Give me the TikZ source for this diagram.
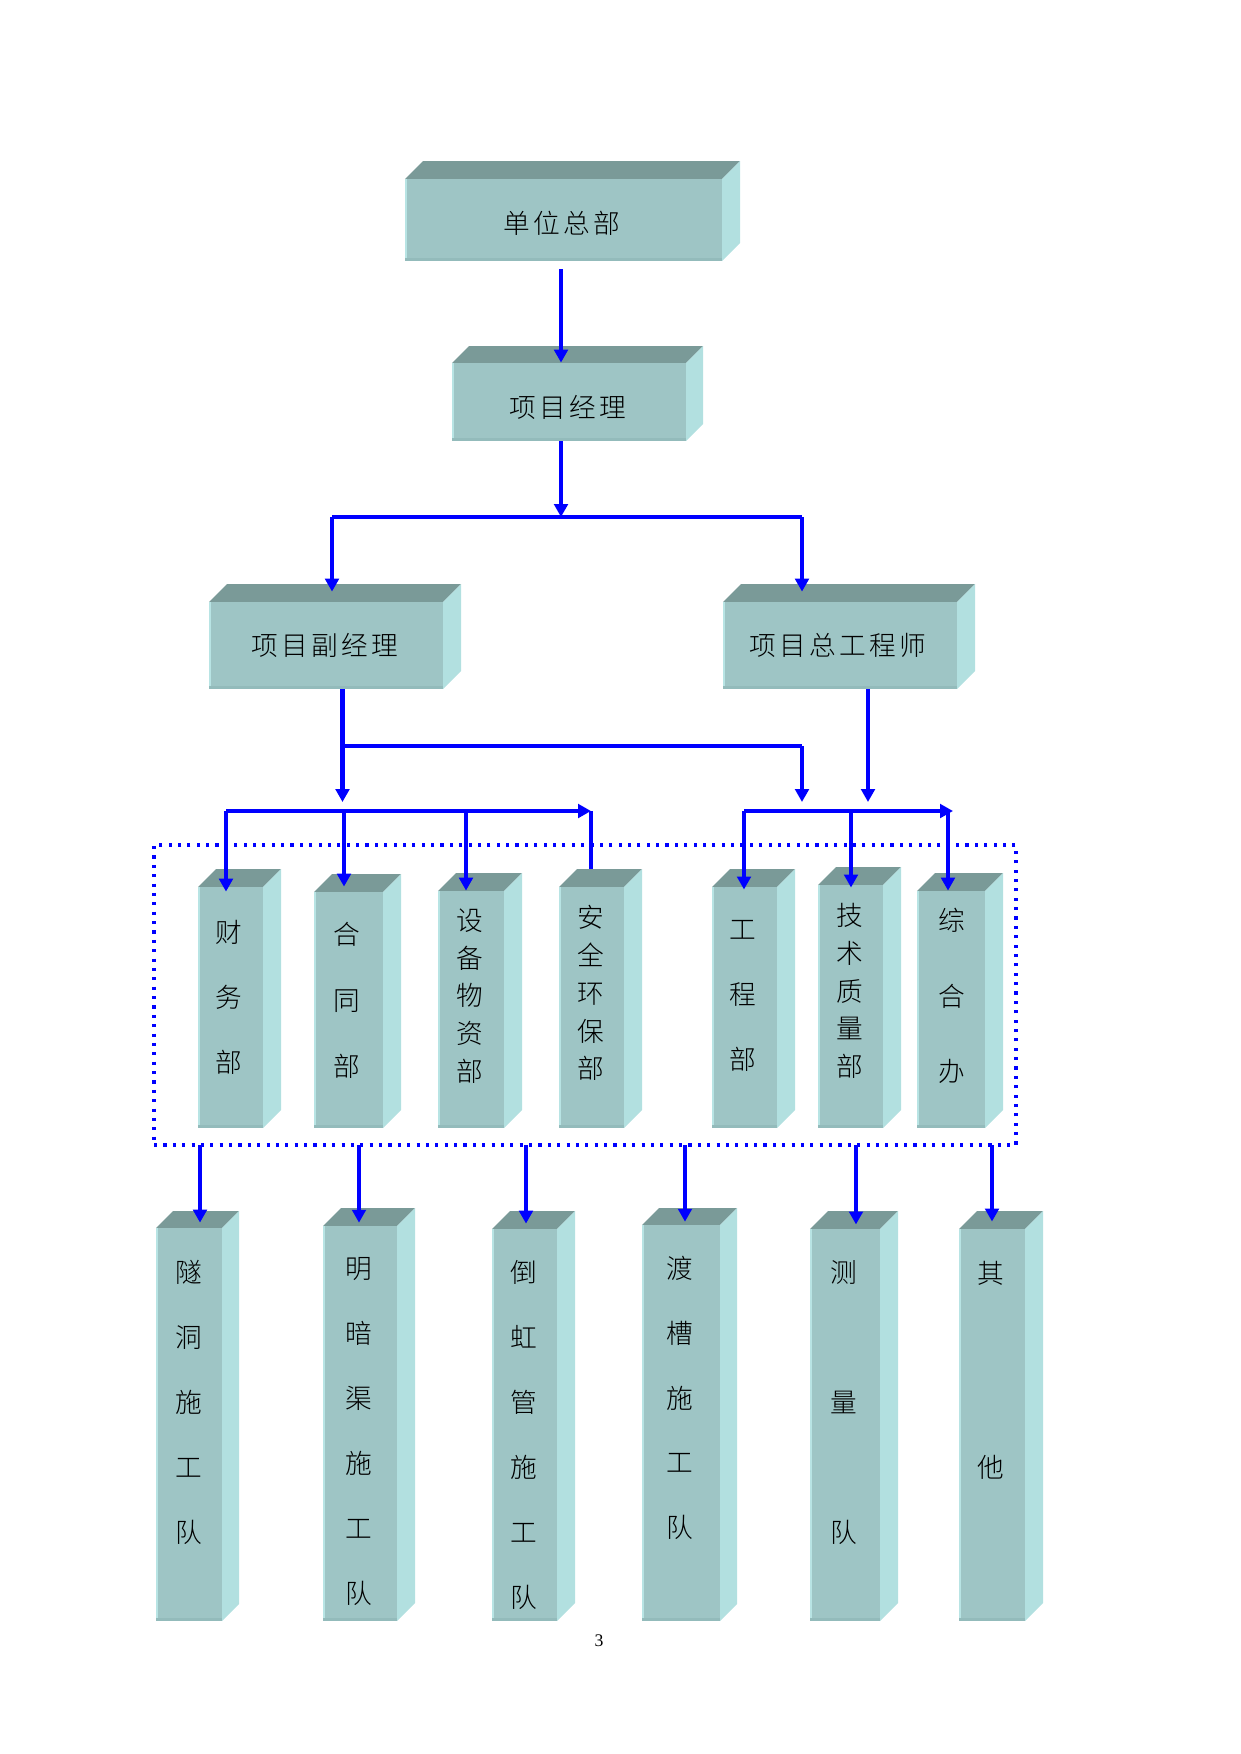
\documentclass[tikz,border=0pt]{standalone}
\usepackage{fontspec}
\setmainfont{Liberation Serif}
\newfontfamily\cjk{Noto Sans CJK SC}[UprightFont={* Light}]
\usetikzlibrary{arrows.meta,fit}
\definecolor{frontc}{HTML}{9EC5C5}
\definecolor{topc}{HTML}{7A9A98}
\definecolor{sidec}{HTML}{B2E0E0}
\definecolor{edgec}{HTML}{B8E4E4}
\definecolor{botc}{HTML}{93BBBB}
\definecolor{linec}{HTML}{0000FF}
\newcommand\ls{\hspace{1.6pt}}
\newcommand\solidbox[6]{%
  \fill[topc] (#2,#3) -- (#2+#6,#3-#6) -- (#4+#6,#3-#6) -- (#4,#3) -- cycle;
  \fill[sidec] (#4,#3) -- (#4+#6,#3-#6) -- (#4+#6,#5-#6) -- (#4,#5) -- cycle;
  \fill[frontc] (#2,#3) rectangle (#4,#5);
  \fill[edgec] (#2,#3) rectangle (#2+2,#5);
  \fill[botc] (#2,#5-3) rectangle (#4,#5);
  \coordinate (#1-nw) at (#2,#3);
  \coordinate (#1-se) at (#4,#5);
  \node[fit=(#1-nw)(#1-se),inner sep=0pt] (#1) {};
}
\tikzset{
  hlbl/.style={inner sep=0pt, font={\cjk\fontsize{12.8pt}{14pt}\selectfont}},
  vlbl/.style={inner sep=0pt, align=center, font={\cjk\fontsize{12.8pt}{#1pt}\selectfont}},
  conn/.style={draw=linec, line width=2.2pt, -{Triangle[width=6.5pt,length=6.2pt]}},
  thinconn/.style={draw=linec, line width=1.7pt},
  plainconn/.style={draw=linec, line width=2.2pt},
  group/.style={draw=linec, line width=1.5pt, dash pattern=on 1.5pt off 3pt}
}
\begin{document}
\begin{tikzpicture}[x=0.48pt,y=-0.48pt]
\useasboundingbox (0,0) rectangle (1241,1754);
% top boxes
\solidbox{b1}{405}{179}{722}{261}{18}
\solidbox{b2}{452}{363}{686}{441}{17}
\solidbox{b3}{209}{602}{443}{689}{18}
\solidbox{b4}{723}{602}{957}{689}{18}
\node[hlbl] (b1t) at (562,223) {单\ls 位\ls 总\ls 部};
\node[hlbl] (b2t) at (568,407) {项\ls 目\ls 经\ls 理};
\node[hlbl] (b3t) at (325,645) {项\ls 目\ls 副\ls 经\ls 理};
\node[hlbl] (b4t) at (838,645) {项\ls 目\ls 总\ls 工\ls 程\ls 师};
% department boxes
\solidbox{d1}{198}{887}{263}{1128}{18}
\solidbox{d2}{314}{892}{383}{1128}{18}
\solidbox{d3}{438}{891}{504}{1128}{18}
\solidbox{d4}{559}{887}{624}{1128}{18}
\solidbox{d5}{712}{887}{777}{1128}{18}
\solidbox{d6}{818}{885}{883}{1128}{18}
\solidbox{d7}{917}{891}{985}{1128}{18}
\node[vlbl=31.2] (d1t) at (229,997) {财\\务\\部};
\node[vlbl=31.7] (d2t) at (347,1000) {合\\同\\部};
\node[vlbl=18.1] (d3t) at (470,996) {设\\备\\物\\资\\部};
\node[vlbl=18.2] (d4t) at (591,993) {安\\全\\环\\保\\部};
\node[vlbl=31.4] (d5t) at (743,996) {工\\程\\部};
\node[vlbl=18.1] (d6t) at (850,991) {技\\术\\质\\量\\部};
\node[vlbl=36.2] (d7t) at (952,996) {综\\合\\办};
% team boxes
\solidbox{t1}{156}{1228}{222}{1621}{17}
\solidbox{t2}{323}{1226}{397}{1621}{18}
\solidbox{t3}{492}{1229}{557}{1621}{18}
\solidbox{t4}{642}{1225}{720}{1621}{17}
\solidbox{t5}{810}{1229}{880}{1621}{18}
\solidbox{t6}{959}{1229}{1025}{1621}{18}
\node[vlbl=31.2] (t1t) at (189,1402) {隧\\洞\\施\\工\\队};
\node[vlbl=31.2] (t2t) at (359,1431) {明\\暗\\渠\\施\\工\\队};
\node[vlbl=31.2] (t3t) at (524,1435) {倒\\虹\\管\\施\\工\\队};
\node[vlbl=31.1] (t4t) at (680,1398) {渡\\槽\\施\\工\\队};
\node[vlbl=62.4] (t5t) at (844,1403) {测\\量\\队};
\node[vlbl=93.1] (t6t) at (991,1370) {其\\他};
% dotted group frame
\coordinate (g-nw) at (154,845);
\coordinate (g-se) at (1016,1145);
\node[fit=(g-nw)(g-se),inner sep=0pt,group] (grp) {};
% connectors, top part
\coordinate (c1) at (561,269);
\draw[conn] (c1) -- (c1 |- b2.north);
\coordinate (hM) at (561,517);
\coordinate (hL) at (332,517);
\coordinate (hR) at (802,517);
\draw[conn] (b2.south -| hM) -- (hM);
\draw[thinconn] (hL) -- (hR);
\draw[conn] (hL) -- ([yshift=4.8pt]b3.north -| hL);
\draw[conn] (hR) -- ([yshift=4.8pt]b4.north -| hR);
% from deputy manager and chief engineer
\coordinate (v3) at (342.5,802);
\coordinate (br) at (342.5,746);
\coordinate (brR) at (802,746);
\coordinate (v4a) at (802,802);
\coordinate (v4) at (868,802);
\draw[conn] (b3.south -| v3) -- (v3);
\draw[thinconn] (br) -- (brR);
\draw[conn] (brR) -- (v4a);
\draw[conn] (b4.south -| v4) -- (v4);
% left bus
\coordinate (lb1) at (226,811);
\coordinate (lb2) at (344,811);
\coordinate (lb3) at (466,811);
\coordinate (lb4) at (591,811);
\draw[conn] (lb1) -- (lb4);
\draw[conn] (lb1) -- ([yshift=-2.4pt]d1.north -| lb1);
\draw[conn] (lb2) -- ([yshift=2.4pt]d2.north -| lb2);
\draw[conn] (lb3) -- (d3.north -| lb3);
\draw[plainconn] (lb4) -- ([yshift=8.6pt]d4.north -| lb4);
% right bus
\coordinate (rb1) at (744,811);
\coordinate (rb2) at (851,811);
\coordinate (rb3) at (948,811);
\coordinate (rb4) at (953,811);
\draw[conn] (rb1) -- (rb4);
\draw[conn] (rb1) -- ([yshift=-1.4pt]d5.north -| rb1);
\draw[conn] (rb2) -- ([yshift=-1.4pt]d6.north -| rb2);
\draw[conn] (rb3) -- (d7.north -| rb3);
% to teams
\coordinate (a1) at (200,1145);
\coordinate (a2) at (359,1145);
\coordinate (a3) at (526,1145);
\coordinate (a4) at (685,1145);
\coordinate (a5) at (856,1145);
\coordinate (a6) at (992,1145);
\draw[conn] (a1) -- ([yshift=2.4pt]t1.north -| a1);
\draw[conn] (a2) -- ([yshift=1.4pt]t2.north -| a2);
\draw[conn] (a3) -- ([yshift=2.4pt]t3.north -| a3);
\draw[conn] (a4) -- ([yshift=1.4pt]t4.north -| a4);
\draw[conn] (a5) -- ([yshift=2pt]t5.north -| a5);
\draw[conn] (a6) -- ([yshift=3.4pt]t6.north -| a6);
% page number
\node[inner sep=0pt, font={\fontsize{8.5pt}{10pt}\selectfont}] (pg) at (599,1641) {3};
\end{tikzpicture}
\end{document}
